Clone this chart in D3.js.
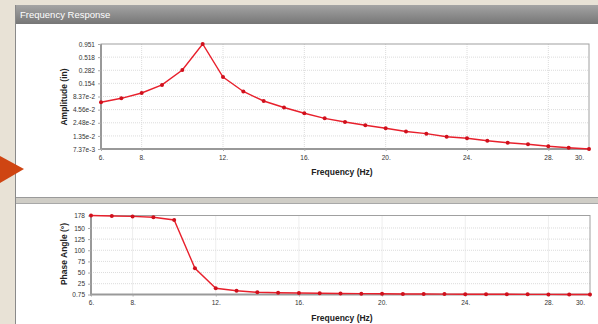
<!DOCTYPE html>
<html>
<head>
<meta charset="utf-8">
<script src="https://cdn.jsdelivr.net/npm/d3@7"></script>
<style>
  body { margin: 0; background: #e8e2d6; }
  svg { display: block; }
</style>
</head>
<body>
<div id="plot"></div>
<script>
// frequencies (Hz)
var freqs = [6, 7, 8, 9, 10, 11, 12, 13, 14, 15, 16, 17, 18, 19, 20, 21, 22, 23, 24, 25, 26, 27, 28, 29, 30];
// amplitude (in)
var amplitude = [0.064, 0.077, 0.0985, 0.143, 0.286, 0.951, 0.2065, 0.1055, 0.068, 0.0503, 0.0385, 0.0305,
  0.0257, 0.0221, 0.0192, 0.0166, 0.0150, 0.0130, 0.0121, 0.0108, 0.00987, 0.00916, 0.00835, 0.00783, 0.00737];
// phase angle (deg)
var phase = [178, 177, 176, 174, 168, 59.5, 14.7, 9.3, 5.7, 4.8, 4.0, 3.4, 2.9, 2.6, 2.3, 2.0, 1.8, 1.6,
  1.45, 1.3, 1.15, 1.05, 0.95, 0.85, 0.75];

var freqTicks = [6, 8, 12, 16, 20, 24, 28, 30];
var ampTicks = [7.37e-3, 1.35e-2, 2.48e-2, 4.56e-2, 8.37e-2, 0.154, 0.282, 0.518, 0.951];
var ampLabels = ["7.37e-3", "1.35e-2", "2.48e-2", "4.56e-2", "8.37e-2", "0.154", "0.282", "0.518", "0.951"];
var phaseTicks = [0.75, 25, 50, 75, 100, 125, 150, 178];
var phaseLabels = ["0.75", "25", "50", "75", "100", "125", "150", "178"];

var W = 598, H = 324;
var font = "Liberation Sans, Arial, sans-serif";
var svg = d3.select("#plot").append("svg").attr("width", W).attr("height", H);

// window frame
svg.append("rect").attr("x", 0).attr("y", 0).attr("width", W).attr("height", H).attr("fill", "#e8e2d6");
var grad = svg.append("defs").append("linearGradient").attr("id", "bar").attr("x1", 0).attr("y1", 0).attr("x2", 0).attr("y2", 1);
grad.append("stop").attr("offset", "0%").attr("stop-color", "#a4a4a4");
grad.append("stop").attr("offset", "100%").attr("stop-color", "#767676");
svg.append("rect").attr("x", 15).attr("y", 5).attr("width", W - 15).attr("height", 19).attr("fill", "url(#bar)");
svg.append("text").attr("x", 20).attr("y", 18).attr("fill", "white")
  .style("font-family", font).style("font-size", "9.5px")
  .text("Frequency Response");
svg.append("rect").attr("x", 15).attr("y", 24).attr("width", W - 15).attr("height", 173).attr("fill", "white");
svg.append("rect").attr("x", 15).attr("y", 197).attr("width", W - 15).attr("height", 7).attr("fill", "#cfcdc6");
svg.append("line").attr("x1", 15).attr("x2", W).attr("y1", 197.5).attr("y2", 197.5).attr("stroke", "#9a9a9a");
svg.append("line").attr("x1", 15).attr("x2", W).attr("y1", 203.5).attr("y2", 203.5).attr("stroke", "#a8a8a8");
svg.append("rect").attr("x", 15).attr("y", 204).attr("width", W - 15).attr("height", H - 204).attr("fill", "white");
svg.append("line").attr("x1", 15.5).attr("x2", 15.5).attr("y1", 5).attr("y2", H).attr("stroke", "#8a8a8a");

// pointer arrow
svg.append("path").attr("d", "M0,156 L24,169 L0,183 Z").attr("fill", "#cf4512");

function drawChart(opts) {
  var x = d3.scaleLinear().domain([6, 30]).range([opts.left, opts.right]);
  var y = opts.y;
  var g = svg.append("g");

  // grid
  g.selectAll(".hg").data(opts.yTicks.slice(1, -1)).enter().append("line")
    .attr("x1", opts.left).attr("x2", opts.right)
    .attr("y1", function (d) { return y(d); }).attr("y2", function (d) { return y(d); })
    .attr("stroke", "#dcdcdc").attr("stroke-dasharray", "1,1");
  g.selectAll(".vg").data(freqTicks.slice(1, -1)).enter().append("line")
    .attr("x1", function (d) { return x(d); }).attr("x2", function (d) { return x(d); })
    .attr("y1", opts.top).attr("y2", opts.bottom)
    .attr("stroke", "#dcdcdc").attr("stroke-dasharray", "1,1");

  // frame
  g.append("rect").attr("x", opts.left).attr("y", opts.top)
    .attr("width", opts.right - opts.left).attr("height", opts.bottom - opts.top)
    .attr("fill", "none").attr("stroke", "#a0a0a0");
  g.append("line").attr("x1", opts.left).attr("x2", opts.left).attr("y1", opts.top).attr("y2", opts.bottom + 1)
    .attr("stroke", "#999").attr("stroke-width", 2);
  g.append("line").attr("x1", opts.left - 1).attr("x2", opts.right + 1).attr("y1", opts.bottom).attr("y2", opts.bottom)
    .attr("stroke", "#999").attr("stroke-width", 2);

  // axes
  var ya = g.append("g").attr("transform", "translate(" + opts.left + ",0)")
    .call(d3.axisLeft(y).tickValues(opts.yTicks).tickSize(3).tickPadding(3)
      .tickFormat(function (d, i) { return opts.yLabels[i]; }));
  var xa = g.append("g").attr("transform", "translate(0," + opts.bottom + ")")
    .call(d3.axisBottom(x).tickValues(freqTicks).tickSize(2).tickPadding(4)
      .tickFormat(function (d) { return d + "."; }));
  [ya, xa].forEach(function (a) {
    a.select(".domain").remove();
    a.selectAll("line").attr("stroke", "#aaa");
    a.selectAll("text").attr("fill", "#333")
      .style("font-family", font).style("font-size", "6.5px");
  });
  xa.selectAll(".tick").filter(function (d) { return d === 30; }).select("text").attr("dx", -10);

  // titles
  g.append("text").attr("x", 342).attr("y", opts.bottom + 26).attr("text-anchor", "middle")
    .attr("fill", "#222").style("font-family", font)
    .style("font-size", "8.5px").style("font-weight", "bold").text("Frequency (Hz)");
  g.append("text").attr("transform", "translate(" + opts.titleX + "," + opts.titleY + ") rotate(-90)")
    .attr("text-anchor", "middle").attr("fill", "#222").style("font-family", font)
    .style("font-size", "8.5px").style("font-weight", "bold").text(opts.title);

  // series
  var line = d3.line().x(function (d, i) { return x(freqs[i]); }).y(function (d) { return y(d); });
  g.append("path").datum(opts.values).attr("d", line)
    .attr("fill", "none").attr("stroke", "#e8202c").attr("stroke-width", 1.4);
  g.selectAll(".pt").data(opts.values).enter().append("circle")
    .attr("cx", function (d, i) { return x(freqs[i]); })
    .attr("cy", function (d) { return y(d); })
    .attr("r", 2).attr("fill", "#d0101c");
}

drawChart({
  left: 101, right: 589, top: 44, bottom: 149,
  y: d3.scaleLog().domain([7.37e-3, 0.951]).range([149, 44]),
  yTicks: ampTicks, yLabels: ampLabels, values: amplitude,
  title: "Amplitude (in)", titleX: 67, titleY: 97
});
drawChart({
  left: 91, right: 590, top: 215.5, bottom: 294.5,
  y: d3.scaleLinear().domain([0.75, 178]).range([294.5, 215.5]),
  yTicks: phaseTicks, yLabels: phaseLabels, values: phase,
  title: "Phase Angle (°)", titleX: 67, titleY: 254
});
</script>
</body>
</html>
